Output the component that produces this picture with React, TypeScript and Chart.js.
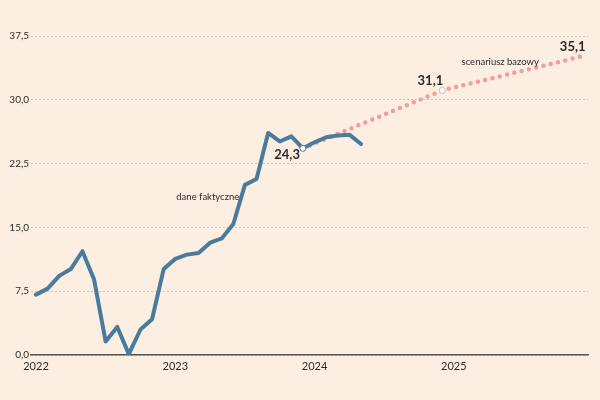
import React, { useEffect, useRef } from "react";
import { Chart, registerables } from "chart.js";

Chart.register(...registerables);

// ---- data ----
const months: string[] = [];
for (let y = 2022; y <= 2025; y++) for (let m = 1; m <= 12; m++) months.push(`${y}-${String(m).padStart(2, "0")}`);

const actualValues: number[] = [
  7.1, 7.8, 9.3, 10.1, 12.2, 8.9, 1.6, 3.3, 0.1, 3.0, 4.2, 10.1,
  11.3, 11.8, 12.0, 13.2, 13.7, 15.4, 20.0, 20.7, 26.1, 25.1, 25.7, 24.3,
  25.0, 25.6, 25.8, 25.9, 24.8,
];

// baseline scenario: known anchor points (Dec 2023, Dec 2024, Dec 2025)
const forecastMonths = ["2023-12", "2024-12", "2025-12"];
const forecastValues = [24.3, 31.1, 35.1];

const yearTickMonths = ["2022-01", "2023-01", "2024-01", "2025-01"];
const yearTickLabels = ["2022", "2023", "2024", "2025"];
const yTicks = [0, 7.5, 15, 22.5, 30, 37.5];

const actualLabel = "dane faktyczne";
const forecastLabel = "scenariusz bazowy";
const actualLabelPos = { month: 14.8, value: 18.6 };
const forecastLabelPos = { month: 40.0, value: 34.4 };

const BG = "#fcefe2";
const BLUE = "#4a7a9c";
const PINK = "#f29ca1";
const TEXT = "#2b2b2b";
const GRID = "#cdc3ba";

const fmt = (v: number) => v.toFixed(1).replace(".", ",");

export default function App() {
  const ref = useRef<HTMLCanvasElement>(null);

  useEffect(() => {
    document.body.style.margin = "0";
    document.body.style.background = BG;
    const ctx = ref.current!;

    const actualData = actualValues.map((v, i) => ({ x: i, y: v }));
    const forecastData = forecastMonths.map((m, i) => ({ x: months.indexOf(m), y: forecastValues[i] }));
    const markerIdx = months.indexOf("2023-12");

    const annotations = {
      id: "annotations",
      afterDatasetsDraw(chart: any) {
        const c = chart.ctx;
        const xs = chart.scales.x;
        const ys = chart.scales.y;
        c.save();
        c.fillStyle = TEXT;
        c.textBaseline = "middle";
        // value labels
        c.font = "bold 13px Lato";
        c.textAlign = "right";
        c.fillText(fmt(forecastValues[0]), xs.getPixelForValue(forecastData[0].x) - 3, ys.getPixelForValue(forecastValues[0]) + 7);
        c.fillText(fmt(forecastValues[1]), xs.getPixelForValue(forecastData[1].x) + 1, ys.getPixelForValue(forecastValues[1]) - 10);
        c.fillText(fmt(forecastValues[2]), xs.getPixelForValue(forecastData[2].x) + 4, ys.getPixelForValue(forecastValues[2]) - 10);
        // series labels
        c.font = "9.5px Lato";
        c.textAlign = "center";
        c.fillText(actualLabel, xs.getPixelForValue(actualLabelPos.month), ys.getPixelForValue(actualLabelPos.value));
        c.fillText(forecastLabel, xs.getPixelForValue(forecastLabelPos.month), ys.getPixelForValue(forecastLabelPos.value));
        c.restore();
      },
    };

    const chart = new Chart(ctx, {
      type: "line",
      data: {
        datasets: [
          {
            label: actualLabel,
            data: actualData,
            borderColor: BLUE,
            borderWidth: 4,
            borderJoinStyle: "round",
            borderCapStyle: "round",
            tension: 0,
            pointRadius: actualData.map((_, i) => (i === markerIdx ? 3 : 0)),
            pointBackgroundColor: "#ffffff",
            pointBorderColor: BLUE,
            pointBorderWidth: 1,
          },
          {
            label: forecastLabel,
            data: forecastData,
            borderColor: PINK,
            borderWidth: 4.5,
            borderDash: [0, 7.5],
            borderCapStyle: "round",
            tension: 0,
            spanGaps: true,
            pointRadius: forecastData.map((_, i) => (i === 1 ? 3 : 0)),
            pointBackgroundColor: "#ffffff",
            pointBorderColor: "#c9bdb5",
            pointBorderWidth: 1,
          },
        ],
      },
      options: {
        animation: false,
        responsive: false,
        maintainAspectRatio: false,
        layout: { padding: { top: 36, right: 12, left: 0, bottom: 0 } },
        plugins: { legend: { display: false }, tooltip: { enabled: false } },
        scales: {
          x: {
            type: "linear",
            min: -0.431,
            max: 47.56,
            afterFit: (s: any) => { s.height = 45; },
            afterBuildTicks: (s: any) => {
              s.ticks = yearTickMonths.map((m) => ({ value: months.indexOf(m) }));
            },
            ticks: {
              autoSkip: false,
              maxRotation: 0,
              padding: 5,
              color: TEXT,
              font: { family: "Lato", size: 11 },
              callback: (v: any) => {
                const i = yearTickMonths.indexOf(months[v as number]);
                return i >= 0 ? yearTickLabels[i] : "";
              },
            },
            grid: { display: false, drawTicks: false },
            border: { display: true, color: "#5a5550", width: 1.5 },
          },
          y: {
            type: "linear",
            min: 0,
            max: 37.5,
            afterFit: (s: any) => { s.width = 31; },
            afterBuildTicks: (s: any) => {
              s.ticks = yTicks.map((v) => ({ value: v }));
            },
            ticks: {
              padding: 2,
              color: TEXT,
              font: { family: "Lato", size: 10 },
              callback: (v: any) => fmt(Number(v)),
            },
            grid: { color: GRID, lineWidth: 1, drawTicks: false },
            border: { display: false, dash: [2, 2] },
          },
        },
      },
      plugins: [annotations],
    });
    return () => chart.destroy();
  }, []);

  return (
    <div style={{ width: 600, height: 400, background: BG }}>
      <canvas ref={ref} width={600} height={400} style={{ display: "block" }} />
    </div>
  );
}
